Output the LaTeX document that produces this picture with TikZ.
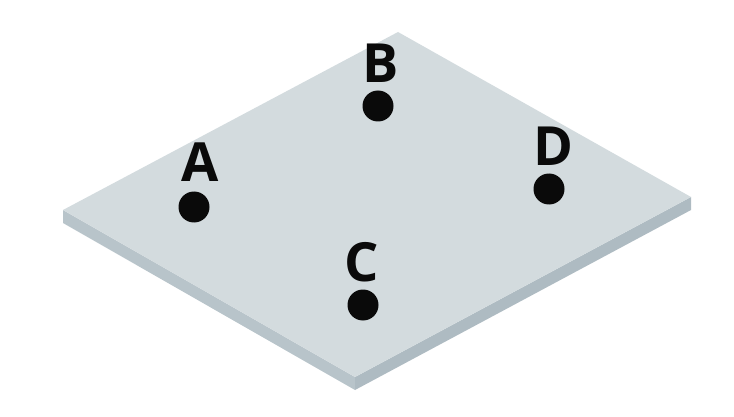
\documentclass[tikz,border=0pt]{standalone}
\usepackage{fontspec}
\setsansfont{Open Sans}
\usepackage{tikz}
\usetikzlibrary{calc}
\definecolor{Plate}{HTML}{D3DBDE}
\definecolor{PlateSide}{HTML}{B8C4CA}
\definecolor{PlateSideTwo}{HTML}{AEBBC2}
\definecolor{Ink}{HTML}{0A0A0A}

\begin{document}
\begin{tikzpicture}[x=0.5pt,y=-0.5pt,
  pt/.style={circle,fill=Ink,inner sep=0pt,minimum size=15.5pt},
  lbl/.style={font=\sffamily\bfseries\fontsize{27}{27}\selectfont,text=Ink,inner sep=0pt}]
  \useasboundingbox (0,0) rectangle (734,417);
  % plate: top face and the two visible edges
  \coordinate (pl) at (63,210);
  \coordinate (pt) at (398,32);
  \coordinate (pr) at (691,197);
  \coordinate (pb) at (355,377);
  \fill[PlateSide] (pl) -- (pb) -- ++(0,13) -- ($(pl)+(0,13)$) -- cycle;
  \fill[PlateSideTwo] (pb) -- (pr) -- ++(0,13) -- ($(pb)+(0,13)$) -- cycle;
  \fill[Plate] (pl) -- (pt) -- (pr) -- (pb) -- cycle;
  % points
  \node[pt] (a) at (194,207) {};
  \node[pt] (b) at (378,106) {};
  \node[pt] (c) at (363,305) {};
  \node[pt] (d) at (549,189) {};
  \node[lbl] (la) at (200,162) {A};
  \node[lbl] (lb) at (381,63) {B};
  \node[lbl] (lc) at (362,262) {C};
  \node[lbl] (ld) at (553,146) {D};
\end{tikzpicture}
\end{document}
